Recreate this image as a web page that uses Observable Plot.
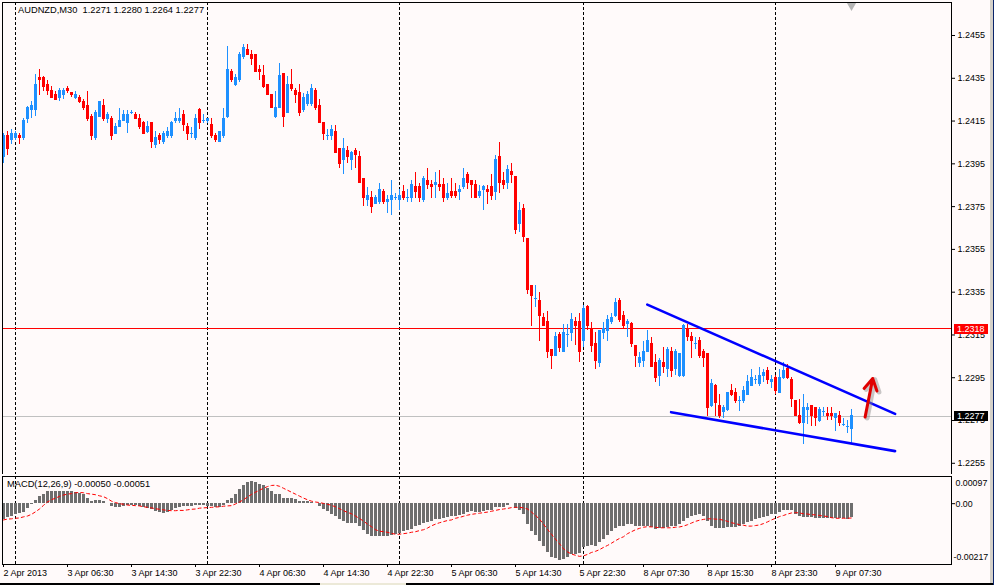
<!DOCTYPE html>
<html>
<head>
<meta charset="utf-8">
<script src="https://cdn.jsdelivr.net/npm/d3@7"></script>
<script src="https://cdn.jsdelivr.net/npm/@observablehq/plot@0.6"></script>
<style>
html,body{margin:0;padding:0;background:#fffafa;}
#wrap{position:relative;width:994px;height:585px;overflow:hidden;background:#fffafa;font-family:"Liberation Sans",Arial,sans-serif;color:#000;}
#wrap .layer{position:absolute;left:0;}
.hdr{position:absolute;white-space:pre;font-size:9.3px;line-height:11px;color:#000;}
.pbox{position:absolute;left:954px;width:34px;height:10px;color:#fff;font-size:9px;line-height:10px;padding-left:3px;box-sizing:border-box;}
.chrome{position:absolute;}
</style>
</head>
<body>
<div id="wrap"></div>
<script>
// ---------- data ----------
const symbolName = "AUDNZD,M30";
const macdName = "MACD(12,26,9)";

const open = [
1.2398,1.2408,1.2406,1.2407,1.2408,1.2407,1.2416,1.2420,1.2420,1.2435,
1.2435,1.2432,1.2429,1.2427,1.2426,1.2427,1.2430,1.2428,1.2426,1.2426,
1.2424,1.2422,1.2417,1.2407,1.2417,1.2422,1.2416,1.2416,1.2409,1.2412,
1.2415,1.2414,1.2419,1.2418,1.2416,1.2414,1.2410,1.2414,1.2404,1.2408,
1.2405,1.2408,1.2408,1.2415,1.2415,1.2418,1.2412,1.2409,1.2407,1.2420,
1.2415,1.2415,1.2413,1.2408,1.2405,1.2408,1.2417,1.2438,1.2432,1.2434,
1.2445,1.2448,1.2446,1.2446,1.2439,1.2436,1.2432,1.2427,1.2417,1.2421,
1.2437,1.2419,1.2432,1.2429,1.2428,1.2420,1.2423,1.2423,1.2429,1.2422,
1.2414,1.2408,1.2408,1.2410,1.2402,1.2397,1.2401,1.2397,1.2401,1.2398,
1.2388,1.2378,1.2379,1.2376,1.2377,1.2382,1.2377,1.2378,1.2379,1.2378,
1.2382,1.2379,1.2379,1.2384,1.2384,1.2378,1.2387,1.2385,1.2385,1.2385,
1.2385,1.2379,1.2382,1.2382,1.2382,1.2384,1.2390,1.2387,1.2385,1.2380,
1.2383,1.2383,1.2384,1.2382,1.2398,1.2387,1.2386,1.2391,1.2389,1.2367,
1.2374,1.2360,1.2338,1.2332,1.2331,1.2323,1.2321,1.2308,1.2305,1.2315,
1.2307,1.2315,1.2316,1.2321,1.2321,1.2312,1.2328,1.2318,1.2311,1.2302,
1.2316,1.2317,1.2321,1.2324,1.2331,1.2324,1.2320,1.2320,1.2310,1.2302,
1.2303,1.2307,1.2311,1.2302,1.2296,1.2302,1.2299,1.2307,1.2299,1.2296,
1.2296,1.2318,1.2314,1.2311,1.2312,1.2307,1.2306,1.2282,1.2291,1.2282,
1.2279,1.2280,1.2289,1.2288,1.2284,1.2284,1.2287,1.2291,1.2294,1.2292,
1.2296,1.2298,1.2293,1.2295,1.2288,1.2295,1.2299,1.2294,1.2284,1.2277,
1.2274,1.2280,1.2282,1.2281,1.2275,1.2279,1.2278,1.2278,1.2276,1.2277,
1.2273,1.2272,1.2271];

const high = [
1.2409,1.2410,1.2411,1.2410,1.2409,1.2416,1.2422,1.2424,1.2437,1.2439,
1.2436,1.2434,1.2431,1.2429,1.2430,1.2430,1.2431,1.2428,1.2429,1.2427,
1.2425,1.2429,1.2418,1.2420,1.2424,1.2425,1.2419,1.2417,1.2414,1.2421,
1.2420,1.2420,1.2420,1.2419,1.2418,1.2415,1.2415,1.2414,1.2410,1.2409,
1.2410,1.2412,1.2415,1.2419,1.2421,1.2420,1.2414,1.2412,1.2418,1.2421,
1.2418,1.2416,1.2416,1.2409,1.2410,1.2421,1.2450,1.2439,1.2437,1.2447,
1.2451,1.2451,1.2448,1.2446,1.2441,1.2441,1.2432,1.2427,1.2429,1.2442,
1.2437,1.2436,1.2439,1.2430,1.2432,1.2428,1.2429,1.2432,1.2430,1.2425,
1.2414,1.2411,1.2413,1.2413,1.2402,1.2407,1.2403,1.2401,1.2402,1.2401,
1.2388,1.2384,1.2382,1.2380,1.2386,1.2383,1.2380,1.2387,1.2381,1.2383,
1.2385,1.2383,1.2387,1.2391,1.2386,1.2389,1.2393,1.2387,1.2391,1.2392,
1.2388,1.2386,1.2388,1.2386,1.2385,1.2393,1.2391,1.2387,1.2387,1.2385,
1.2385,1.2385,1.2390,1.2399,1.2405,1.2391,1.2394,1.2395,1.2389,1.2377,
1.2376,1.2360,1.2338,1.2338,1.2335,1.2325,1.2326,1.2308,1.2316,1.2316,
1.2320,1.2320,1.2325,1.2323,1.2325,1.2329,1.2329,1.2321,1.2316,1.2317,
1.2321,1.2324,1.2325,1.2332,1.2332,1.2326,1.2322,1.2321,1.2310,1.2307,
1.2312,1.2317,1.2314,1.2306,1.2304,1.2309,1.2309,1.2309,1.2308,1.2306,
1.2320,1.2320,1.2316,1.2314,1.2314,1.2308,1.2306,1.2294,1.2292,1.2287,
1.2282,1.2288,1.2292,1.2290,1.2286,1.2291,1.2296,1.2299,1.2296,1.2300,
1.2299,1.2300,1.2296,1.2296,1.2299,1.2302,1.2301,1.2295,1.2284,1.2285,
1.2287,1.2283,1.2282,1.2281,1.2281,1.2281,1.2281,1.2281,1.2278,1.2279,
1.2276,1.2275,1.2280];

const low = [
1.2395,1.2399,1.2404,1.2406,1.2404,1.2406,1.2414,1.2416,1.2417,1.2427,
1.2429,1.2427,1.2426,1.2425,1.2424,1.2425,1.2428,1.2426,1.2425,1.2423,
1.2420,1.2415,1.2406,1.2406,1.2417,1.2415,1.2414,1.2406,1.2409,1.2412,
1.2415,1.2409,1.2418,1.2416,1.2411,1.2409,1.2409,1.2402,1.2402,1.2404,
1.2404,1.2407,1.2407,1.2414,1.2414,1.2410,1.2406,1.2407,1.2406,1.2411,
1.2414,1.2414,1.2407,1.2405,1.2405,1.2407,1.2416,1.2433,1.2431,1.2433,
1.2444,1.2446,1.2441,1.2438,1.2434,1.2430,1.2427,1.2421,1.2416,1.2421,
1.2412,1.2419,1.2429,1.2423,1.2417,1.2419,1.2422,1.2422,1.2420,1.2414,
1.2406,1.2406,1.2406,1.2400,1.2393,1.2390,1.2395,1.2392,1.2393,1.2386,
1.2375,1.2375,1.2372,1.2376,1.2376,1.2376,1.2372,1.2371,1.2378,1.2373,
1.2378,1.2377,1.2377,1.2379,1.2377,1.2377,1.2383,1.2379,1.2379,1.2382,
1.2377,1.2378,1.2379,1.2379,1.2378,1.2383,1.2383,1.2379,1.2379,1.2379,
1.2373,1.2376,1.2378,1.2378,1.2381,1.2383,1.2383,1.2386,1.2362,1.2363,
1.2358,1.2334,1.2319,1.2328,1.2312,1.2319,1.2304,1.2299,1.2305,1.2307,
1.2307,1.2309,1.2312,1.2310,1.2302,1.2309,1.2317,1.2307,1.2299,1.2300,
1.2313,1.2312,1.2320,1.2323,1.2321,1.2318,1.2314,1.2309,1.2300,1.2300,
1.2300,1.2307,1.2300,1.2293,1.2291,1.2297,1.2295,1.2295,1.2296,1.2295,
1.2295,1.2312,1.2304,1.2308,1.2304,1.2300,1.2277,1.2281,1.2277,1.2276,
1.2276,1.2279,1.2286,1.2283,1.2279,1.2283,1.2287,1.2291,1.2292,1.2291,
1.2293,1.2292,1.2290,1.2287,1.2288,1.2294,1.2294,1.2281,1.2277,1.2273,
1.2264,1.2273,1.2272,1.2272,1.2274,1.2277,1.2275,1.2275,1.2270,1.2272,
1.2272,1.2269,1.2264];

const close = [
1.2408,1.2402,1.2409,1.2409,1.2407,1.2415,1.2421,1.2422,1.2432,1.2434,
1.2431,1.2429,1.2426,1.2425,1.2429,1.2429,1.2429,1.2427,1.2427,1.2424,
1.2421,1.2416,1.2408,1.2419,1.2424,1.2416,1.2418,1.2408,1.2412,1.2415,
1.2418,1.2418,1.2419,1.2416,1.2412,1.2409,1.2412,1.2405,1.2407,1.2406,
1.2409,1.2410,1.2414,1.2416,1.2416,1.2413,1.2409,1.2409,1.2416,1.2414,
1.2415,1.2416,1.2408,1.2406,1.2410,1.2416,1.2439,1.2434,1.2435,1.2446,
1.2449,1.2446,1.2444,1.2438,1.2438,1.2431,1.2427,1.2421,1.2421,1.2436,
1.2417,1.2432,1.2430,1.2427,1.2419,1.2426,1.2427,1.2430,1.2421,1.2414,
1.2409,1.2408,1.2411,1.2400,1.2395,1.2402,1.2398,1.2400,1.2399,1.2386,
1.2379,1.2380,1.2375,1.2379,1.2383,1.2377,1.2378,1.2380,1.2379,1.2380,
1.2379,1.2379,1.2385,1.2382,1.2379,1.2388,1.2385,1.2384,1.2386,1.2384,
1.2379,1.2381,1.2380,1.2380,1.2383,1.2388,1.2386,1.2385,1.2379,1.2382,
1.2384,1.2382,1.2380,1.2397,1.2386,1.2385,1.2392,1.2390,1.2364,1.2373,
1.2361,1.2336,1.2333,1.2332,1.2324,1.2319,1.2307,1.2305,1.2314,1.2309,
1.2316,1.2315,1.2322,1.2319,1.2307,1.2327,1.2319,1.2310,1.2303,1.2317,
1.2318,1.2322,1.2323,1.2330,1.2322,1.2319,1.2321,1.2311,1.2305,1.2304,
1.2307,1.2312,1.2300,1.2295,1.2303,1.2300,1.2308,1.2298,1.2307,1.2306,
1.2319,1.2314,1.2312,1.2311,1.2305,1.2304,1.2281,1.2292,1.2283,1.2277,
1.2281,1.2288,1.2287,1.2284,1.2284,1.2289,1.2293,1.2295,1.2294,1.2296,
1.2297,1.2294,1.2294,1.2289,1.2295,1.2298,1.2295,1.2285,1.2277,1.2274,
1.2281,1.2281,1.2277,1.2276,1.2280,1.2279,1.2277,1.2277,1.2278,1.2274,
1.2273,1.2272,1.2277];

const macdMain = [
-0.00055,-0.00048,-0.00044,-0.00040,-0.00036,-0.00032,-0.00016,-0.00002,0.00011,0.00025,
0.00034,0.00042,0.00045,0.00045,0.00045,0.00045,0.00045,0.00042,0.00040,0.00036,
0.00031,0.00019,0.00007,0.00011,0.00013,0.00007,0.00001,-0.00011,-0.00014,-0.00014,
-0.00011,-0.00008,-0.00007,-0.00008,-0.00011,-0.00013,-0.00016,-0.00022,-0.00028,-0.00032,
-0.00034,-0.00032,-0.00025,-0.00016,-0.00013,-0.00011,-0.00011,-0.00011,-0.00008,-0.00005,
-0.00007,-0.00011,-0.00011,-0.00014,-0.00014,-0.00008,0.00011,0.00019,0.00031,0.00051,
0.00066,0.00074,0.00078,0.00075,0.00069,0.00066,0.00054,0.00042,0.00031,0.00033,
0.00019,0.00019,0.00019,0.00016,0.00007,0.00007,0.00007,0.00004,0.00001,-0.00011,
-0.00020,-0.00028,-0.00038,-0.00046,-0.00058,-0.00064,-0.00069,-0.00072,-0.00072,-0.00081,
-0.00096,-0.00111,-0.00116,-0.00116,-0.00116,-0.00116,-0.00116,-0.00114,-0.00111,-0.00107,
-0.00101,-0.00096,-0.00091,-0.00083,-0.00079,-0.00072,-0.00067,-0.00064,-0.00058,-0.00055,
-0.00052,-0.00048,-0.00046,-0.00044,-0.00042,-0.00038,-0.00032,-0.00028,-0.00030,-0.00030,
-0.00029,-0.00026,-0.00026,-0.00012,-0.00012,-0.00012,-0.00006,0.00002,-0.00017,-0.00024,
-0.00039,-0.00074,-0.00098,-0.00115,-0.00136,-0.00154,-0.00175,-0.00193,-0.00196,-0.00202,
-0.00199,-0.00193,-0.00183,-0.00181,-0.00178,-0.00157,-0.00151,-0.00149,-0.00151,-0.00139,
-0.00127,-0.00115,-0.00101,-0.00089,-0.00083,-0.00080,-0.00074,-0.00074,-0.00080,-0.00080,
-0.00080,-0.00080,-0.00086,-0.00092,-0.00089,-0.00089,-0.00086,-0.00080,-0.00080,-0.00074,
-0.00062,-0.00052,-0.00044,-0.00042,-0.00040,-0.00044,-0.00062,-0.00080,-0.00088,-0.00089,
-0.00089,-0.00086,-0.00086,-0.00086,-0.00082,-0.00076,-0.00068,-0.00062,-0.00056,-0.00054,
-0.00050,-0.00044,-0.00040,-0.00037,-0.00030,-0.00026,-0.00024,-0.00026,-0.00038,-0.00044,
-0.00048,-0.00050,-0.00050,-0.00052,-0.00054,-0.00054,-0.00054,-0.00054,-0.00054,-0.00054,
-0.00054,-0.00056,-0.00050];

const macdSignal = [
-0.00058,-0.00055,-0.00054,-0.00052,-0.00051,-0.00047,-0.00044,-0.00038,-0.00029,-0.00019,
-0.00006,0.00006,0.00014,0.00020,0.00026,0.00031,0.00034,0.00036,0.00039,0.00040,
0.00039,0.00036,0.00034,0.00032,0.00028,0.00025,0.00018,0.00009,0.00004,0.00000,
-0.00002,-0.00005,-0.00006,-0.00007,-0.00008,-0.00011,-0.00013,-0.00015,-0.00018,-0.00020,
-0.00022,-0.00024,-0.00025,-0.00025,-0.00024,-0.00024,-0.00022,-0.00020,-0.00019,-0.00016,
-0.00015,-0.00014,-0.00013,-0.00012,-0.00011,-0.00009,-0.00008,-0.00007,-0.00001,0.00006,
0.00014,0.00024,0.00033,0.00041,0.00048,0.00055,0.00061,0.00065,0.00066,0.00062,
0.00055,0.00048,0.00041,0.00034,0.00027,0.00020,0.00014,0.00009,0.00006,0.00004,
0.00001,-0.00002,-0.00006,-0.00011,-0.00018,-0.00025,-0.00031,-0.00036,-0.00044,-0.00053,
-0.00062,-0.00073,-0.00082,-0.00093,-0.00098,-0.00100,-0.00102,-0.00106,-0.00109,-0.00109,
-0.00107,-0.00105,-0.00102,-0.00100,-0.00096,-0.00093,-0.00087,-0.00079,-0.00073,-0.00068,
-0.00064,-0.00060,-0.00058,-0.00052,-0.00049,-0.00045,-0.00041,-0.00038,-0.00036,-0.00034,
-0.00032,-0.00030,-0.00027,-0.00024,-0.00021,-0.00019,-0.00017,-0.00014,-0.00013,-0.00013,
-0.00015,-0.00019,-0.00030,-0.00042,-0.00055,-0.00073,-0.00092,-0.00109,-0.00127,-0.00143,
-0.00161,-0.00172,-0.00180,-0.00184,-0.00188,-0.00186,-0.00181,-0.00174,-0.00170,-0.00164,
-0.00156,-0.00149,-0.00141,-0.00132,-0.00124,-0.00118,-0.00107,-0.00100,-0.00093,-0.00088,
-0.00084,-0.00082,-0.00083,-0.00084,-0.00086,-0.00086,-0.00086,-0.00086,-0.00084,-0.00083,
-0.00080,-0.00075,-0.00069,-0.00063,-0.00059,-0.00056,-0.00054,-0.00054,-0.00055,-0.00056,
-0.00059,-0.00063,-0.00068,-0.00071,-0.00075,-0.00077,-0.00080,-0.00080,-0.00078,-0.00076,
-0.00071,-0.00065,-0.00058,-0.00052,-0.00046,-0.00042,-0.00037,-0.00033,-0.00032,-0.00033,
-0.00036,-0.00037,-0.00039,-0.00040,-0.00042,-0.00044,-0.00046,-0.00050,-0.00052,-0.00052,
-0.00052,-0.00052,-0.00051];

const priceTicks = [1.2255,1.2275,1.2295,1.2315,1.2335,1.2355,1.2375,1.2395,1.2415,1.2435,1.2455];
const macdTicks = [0.00097, 0, -0.00217];
const macdTickLabels = ["0.00097", "0.00", "-0.00217"];
const timeTickBars = [0,16,32,48,64,80,96,112,128,144,160,176,192,208];
const timeTickLabels = ["2 Apr 2013","3 Apr 06:30","3 Apr 14:30","3 Apr 22:30","4 Apr 06:30","4 Apr 14:30","4 Apr 22:30",
                        "5 Apr 06:30","5 Apr 14:30","5 Apr 22:30","8 Apr 07:30","8 Apr 15:30","8 Apr 23:30","9 Apr 07:30"];
const daySeparatorBars = [3, 51, 99, 145, 193];
const markedLevel = 1.2318;   // red horizontal line
const bidLevel = 1.2277;      // current bid
const upperTrend = [{bar: 160.95, price: 1.23292}, {bar: 222.9, price: 1.22781}];
const lowerTrend = [{bar: 166.9, price: 1.22789}, {bar: 222.9, price: 1.22607}];
const signalArrow = [{bar1: 215.4, price1: 1.22766, bar2: 217.3, price2: 1.22946}];

// ---------- build ----------
const wrap = document.getElementById("wrap");
const n = close.length;
const bars = d3.range(n).map(i => ({i, o: open[i], h: high[i], l: low[i], c: close[i]}));
const macdRows = d3.range(macdMain.length).map(i => ({i, m: macdMain[i], s: macdSignal[i]}));
const bull = "#1e90ff", bear = "#ff0000";
const col = d => d.c >= d.o ? bull : bear;
const xDomain = [-0.25, 237];
const svgStyle = {fontFamily: '"Liberation Sans", Arial, sans-serif', fontSize: "9px", background: "#fffafa", color: "#000", overflow: "visible"};
const timeLabelMap = new Map(timeTickBars.map((b, k) => [b, timeTickLabels[k]]));

const mainPlot = Plot.plot({
  width: 994, height: 476,
  marginTop: 2, marginBottom: 2, marginLeft: 2, marginRight: 43,
  x: {domain: xDomain, axis: null, label: null},
  y: {domain: [1.224976, 1.247043], label: null},
  style: svgStyle,
  marks: [
    Plot.ruleX(daySeparatorBars, {x: d => d, stroke: "#000", strokeDasharray: "3,2", shapeRendering: "crispEdges"}),
    Plot.ruleY([bidLevel], {y: d => d, stroke: "#c0c0c0", shapeRendering: "crispEdges"}),
    Plot.ruleY([markedLevel], {y: d => d, stroke: "#ff0000", shapeRendering: "crispEdges"}),
    Plot.ruleX(bars, {x: "i", y1: "l", y2: "h", stroke: col, shapeRendering: "crispEdges"}),
    Plot.rect(bars, {x1: d => d.i - 0.375, x2: d => d.i + 0.375, y1: "o", y2: "c", fill: col,
      insetTop: -0.5, insetBottom: -0.5, shapeRendering: "crispEdges"}),
    Plot.line(upperTrend, {x: "bar", y: "price", stroke: "#0000ff", strokeWidth: 2.6}),
    Plot.line(lowerTrend, {x: "bar", y: "price", stroke: "#0000ff", strokeWidth: 2.6}),
    Plot.arrow(signalArrow, {x1: "bar1", y1: "price1", x2: "bar2", y2: "price2", bend: 0,
      stroke: "#888", strokeOpacity: 0.45, strokeWidth: 5, headLength: 10, dx: 2, dy: 1}),
    Plot.arrow(signalArrow, {x1: "bar1", y1: "price1", x2: "bar2", y2: "price2", bend: 0,
      stroke: "#e00000", strokeWidth: 3, headLength: 9}),
    Plot.dot([n - 1], {x: d => d, frameAnchor: "top", symbol: "triangle", rotate: 180, r: 3.5,
      fill: "#b4b4b4", stroke: "none", dy: 3}),
    Plot.axisY(priceTicks, {anchor: "right", tickSize: 3, tickPadding: 3, tickFormat: d => d.toFixed(4)}),
    Plot.frame({stroke: "#000", shapeRendering: "crispEdges"})
  ]
});

const macdLabelDy = [7, 0, -7];
const macdLabelDx = [4, 4, 2];
const macdPlot = Plot.plot({
  width: 994, height: 111,
  marginTop: 2, marginBottom: 21, marginLeft: 2, marginRight: 43,
  x: {domain: xDomain, label: null},
  y: {domain: [-0.00217, 0.00097], label: null},
  style: svgStyle,
  marks: [
    Plot.ruleX(daySeparatorBars, {x: d => d, stroke: "#000", strokeDasharray: "3,2", shapeRendering: "crispEdges"}),
    Plot.rect(macdRows, {x1: d => d.i - 0.375, x2: d => d.i + 0.375, y1: () => 0, y2: "m",
      fill: "#6e6e6e", shapeRendering: "crispEdges"}),
    Plot.line(macdRows, {x: "i", y: "s", stroke: "#ff0000", strokeWidth: 1, strokeDasharray: "3,3"}),
    Plot.axisX(timeTickBars, {anchor: "bottom", tickSize: 3, tickPadding: 2, textAnchor: "start",
      tickFormat: d => timeLabelMap.get(d)}),
    Plot.axisY([0], {anchor: "right", tickSize: 3, tickFormat: () => ""}),
    ...macdTicks.map((v, k) => Plot.text([v], {y: d => d, text: () => macdTickLabels[k],
      frameAnchor: "right", textAnchor: "start", dx: macdLabelDx[k], dy: macdLabelDy[k], fill: "#000",
      fontSize: 8.8})),
    Plot.frame({stroke: "#000", shapeRendering: "crispEdges"})
  ]
});

const l1 = document.createElement("div"); l1.className = "layer"; l1.style.top = "0px"; l1.appendChild(mainPlot);
const l2 = document.createElement("div"); l2.className = "layer"; l2.style.top = "474px"; l2.appendChild(macdPlot);
wrap.appendChild(l1); wrap.appendChild(l2);

// headers
const h1 = document.createElement("div"); h1.className = "hdr";
h1.style.left = "18px"; h1.style.top = "5px";
h1.textContent = symbolName + "  " + [open, high, low, close].map(a => a[n - 1].toFixed(4)).join(" ");
wrap.appendChild(h1);
const h2 = document.createElement("div"); h2.className = "hdr";
h2.style.left = "7px"; h2.style.top = "479px";
h2.textContent = macdName + " " + macdMain[macdMain.length - 1].toFixed(5) + " " + macdSignal[macdSignal.length - 1].toFixed(5);
wrap.appendChild(h2);

// price boxes on the right scale
const ys = mainPlot.scale("y");
[[markedLevel, "#ff0000"], [bidLevel, "#000000"]].forEach(([v, bg]) => {
  const b = document.createElement("div"); b.className = "pbox";
  b.style.background = bg;
  b.style.top = (ys.apply(v) + 0.5 - 5) + "px";
  b.textContent = v.toFixed(4);
  wrap.appendChild(b);
});

// window chrome
function chrome(l, t, w, h, c) {
  const d = document.createElement("div"); d.className = "chrome";
  Object.assign(d.style, {left: l + "px", top: t + "px", width: w + "px", height: h + "px", background: c});
  wrap.appendChild(d);
}
chrome(0, 583, 994, 2, "#000");
chrome(320, 583, 86, 2, "#ece9d8");
chrome(990, 0, 3, 583, "#d4d0c8");
chrome(993, 0, 1, 585, "#0a246a");
</script>
</body>
</html>
